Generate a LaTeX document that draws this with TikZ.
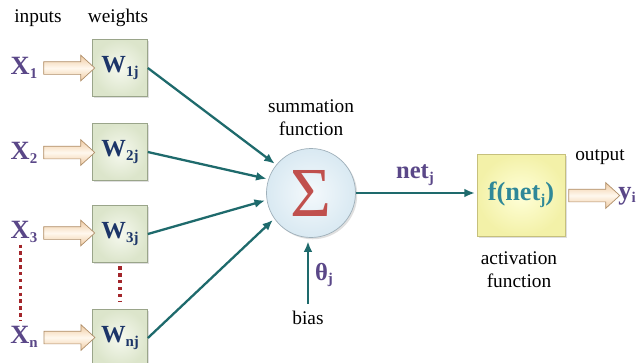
\documentclass[tikz,border=0pt]{standalone}
\usepackage{fontspec}
\setmainfont{Liberation Serif}
\usetikzlibrary{positioning}
\usetikzlibrary{shapes.arrows, arrows.meta, calc, shadows}

\definecolor{inpurple}{HTML}{5A4788}
\definecolor{wnavy}{HTML}{1C3568}
\definecolor{wborder}{HTML}{9AA58A}
\definecolor{wlight}{HTML}{F6F9EF}
\definecolor{wdark}{HTML}{DCE5CB}
\definecolor{linkteal}{HTML}{1E6A6C}
\definecolor{sigred}{HTML}{C0504D}
\definecolor{sumlight}{HTML}{F4F9FC}
\definecolor{sumdark}{HTML}{D9E9F2}
\definecolor{sumborder}{HTML}{9FB0BA}
\definecolor{flight}{HTML}{FFFFD8}
\definecolor{fdark}{HTML}{F3F1A8}
\definecolor{fborder}{HTML}{C6C07C}
\definecolor{fteal}{HTML}{2F8898}
\definecolor{fatlight}{HTML}{FFF8EE}
\definecolor{fatdark}{HTML}{F0CBA2}
\definecolor{fatborder}{HTML}{B08F6A}
\definecolor{dotred}{HTML}{A3262B}

\newcommand{\idx}[1]{\raisebox{-0.3ex}{\fontsize{8.5}{9}\selectfont #1}}

\begin{document}
\begin{tikzpicture}[x=0.2mm,y=-0.2mm,
  lbl/.style={font=\fontsize{11}{13}\selectfont, text=black, align=center, inner sep=1pt},
  inp/.style={font=\fontsize{15}{17}\selectfont\bfseries, text=inpurple, inner sep=1pt},
  wbox/.style={rectangle, draw=wborder, inner color=wlight, outer color=wdark, minimum width=11mm, minimum height=11.4mm, font=\fontsize{14}{16}\selectfont\bfseries, text=wnavy, drop shadow={opacity=0.25, shadow xshift=1pt, shadow yshift=-1pt}},
  fat/.style={single arrow, draw=fatborder, top color=fatdark, bottom color=fatdark, middle color=fatlight, minimum height=10.2mm, inner xsep=0pt, inner ysep=1.2mm, single arrow head extend=1.3mm, single arrow tip angle=85},
  link/.style={draw=linkteal, line width=1.3pt, -{Latex[length=6pt,width=5pt]}, shorten >=1pt},
  dots/.style={draw=dotred, line width=1.9pt, dash pattern=on 1.9pt off 2pt}]
\useasboundingbox (0,0) rectangle (637,362);
\fill[white] (0,0) rectangle (637,362);

\node[lbl] (inlbl) at (38,18) {inputs};
\node[lbl] (wlbl) at (118,18) {weights};

\node[inp] (x1) at (24,68) {X\idx{1}};
\node[inp] (x2) at (24,153) {X\idx{2}};
\node[inp] (x3) at (24,232) {X\idx{3}};
\node[inp] (xn) at (24,337) {X\idx{n}};

\node[wbox] (w1) at (120,68) {W\idx{1j}};
\node[wbox] (w2) at (120,152) {W\idx{2j}};
\node[wbox] (w3) at (120,234) {W\idx{3j}};
\node[wbox] (wn) at (120,338) {W\idx{nj}};

\node[fat] (a1) at ($(x1.east)!0.5!(w1.west)$) {};
\node[fat] (a2) at ($(x2.east)!0.5!(w2.west)$) {};
\node[fat] (a3) at ($(x3.east)!0.5!(w3.west)$) {};
\node[fat] (an) at ($(xn.east)!0.5!(wn.west)$) {};

\draw[dots,shorten >=2pt] ([xshift=-2pt]x3.south) -- ([xshift=-2pt]xn.north);
\draw[dots,shorten <=2pt,shorten >=4pt] (w3.south) -- (wn.north);

\node[circle, minimum size=17.8mm, inner sep=0pt, draw=sumborder, inner color=sumlight, outer color=sumdark, drop shadow={opacity=0.25, shadow xshift=1pt, shadow yshift=-1pt}] (sum) at (311,193) {\fontsize{40}{40}\selectfont\textcolor{sigred}{Σ}};
\node[lbl] (sumlbl) at (311,118) {summation\\function};

\draw[link] (w1.east) -- (sum.141);
\draw[link] (w2.east) -- (sum.162);
\draw[link] (w3.east) -- (sum.189);
\draw[link] (wn.east) -- (sum.215);

\node[lbl] (bias) at (308,318) {bias};
\draw[link,shorten <=3pt,shorten >=2pt] (bias.north) -- (bias.north |- sum.south);
\node[inp, font=\fontsize{14}{16}\selectfont\bfseries] (theta) at (324,275) {θ\idx{j}};

\node[rectangle, draw=fborder, inner color=flight, outer color=fdark, minimum width=17.6mm, minimum height=16.4mm, font=\fontsize{15}{17}\selectfont\bfseries, text=fteal, drop shadow={opacity=0.25, shadow xshift=1pt, shadow yshift=-1pt}] (fbox) at (521,195) {f(net\idx{j})};
\draw[link] (sum.east) -- (sum.east -| fbox.west);
\node[inp, font=\fontsize{14}{16}\selectfont\bfseries] (netlbl) at (415,175) {net\idx{j}};

\node[inp] (yout) at (627,196) {y\idx{i}};
\node[fat] (a5) at ($(fbox.east)!0.5!(yout.west)$) {};
\node[lbl] (outlbl) at (600,157) {output};
\node[lbl] (actlbl) at (519,270) {activation\\function};

\end{tikzpicture}
\end{document}
